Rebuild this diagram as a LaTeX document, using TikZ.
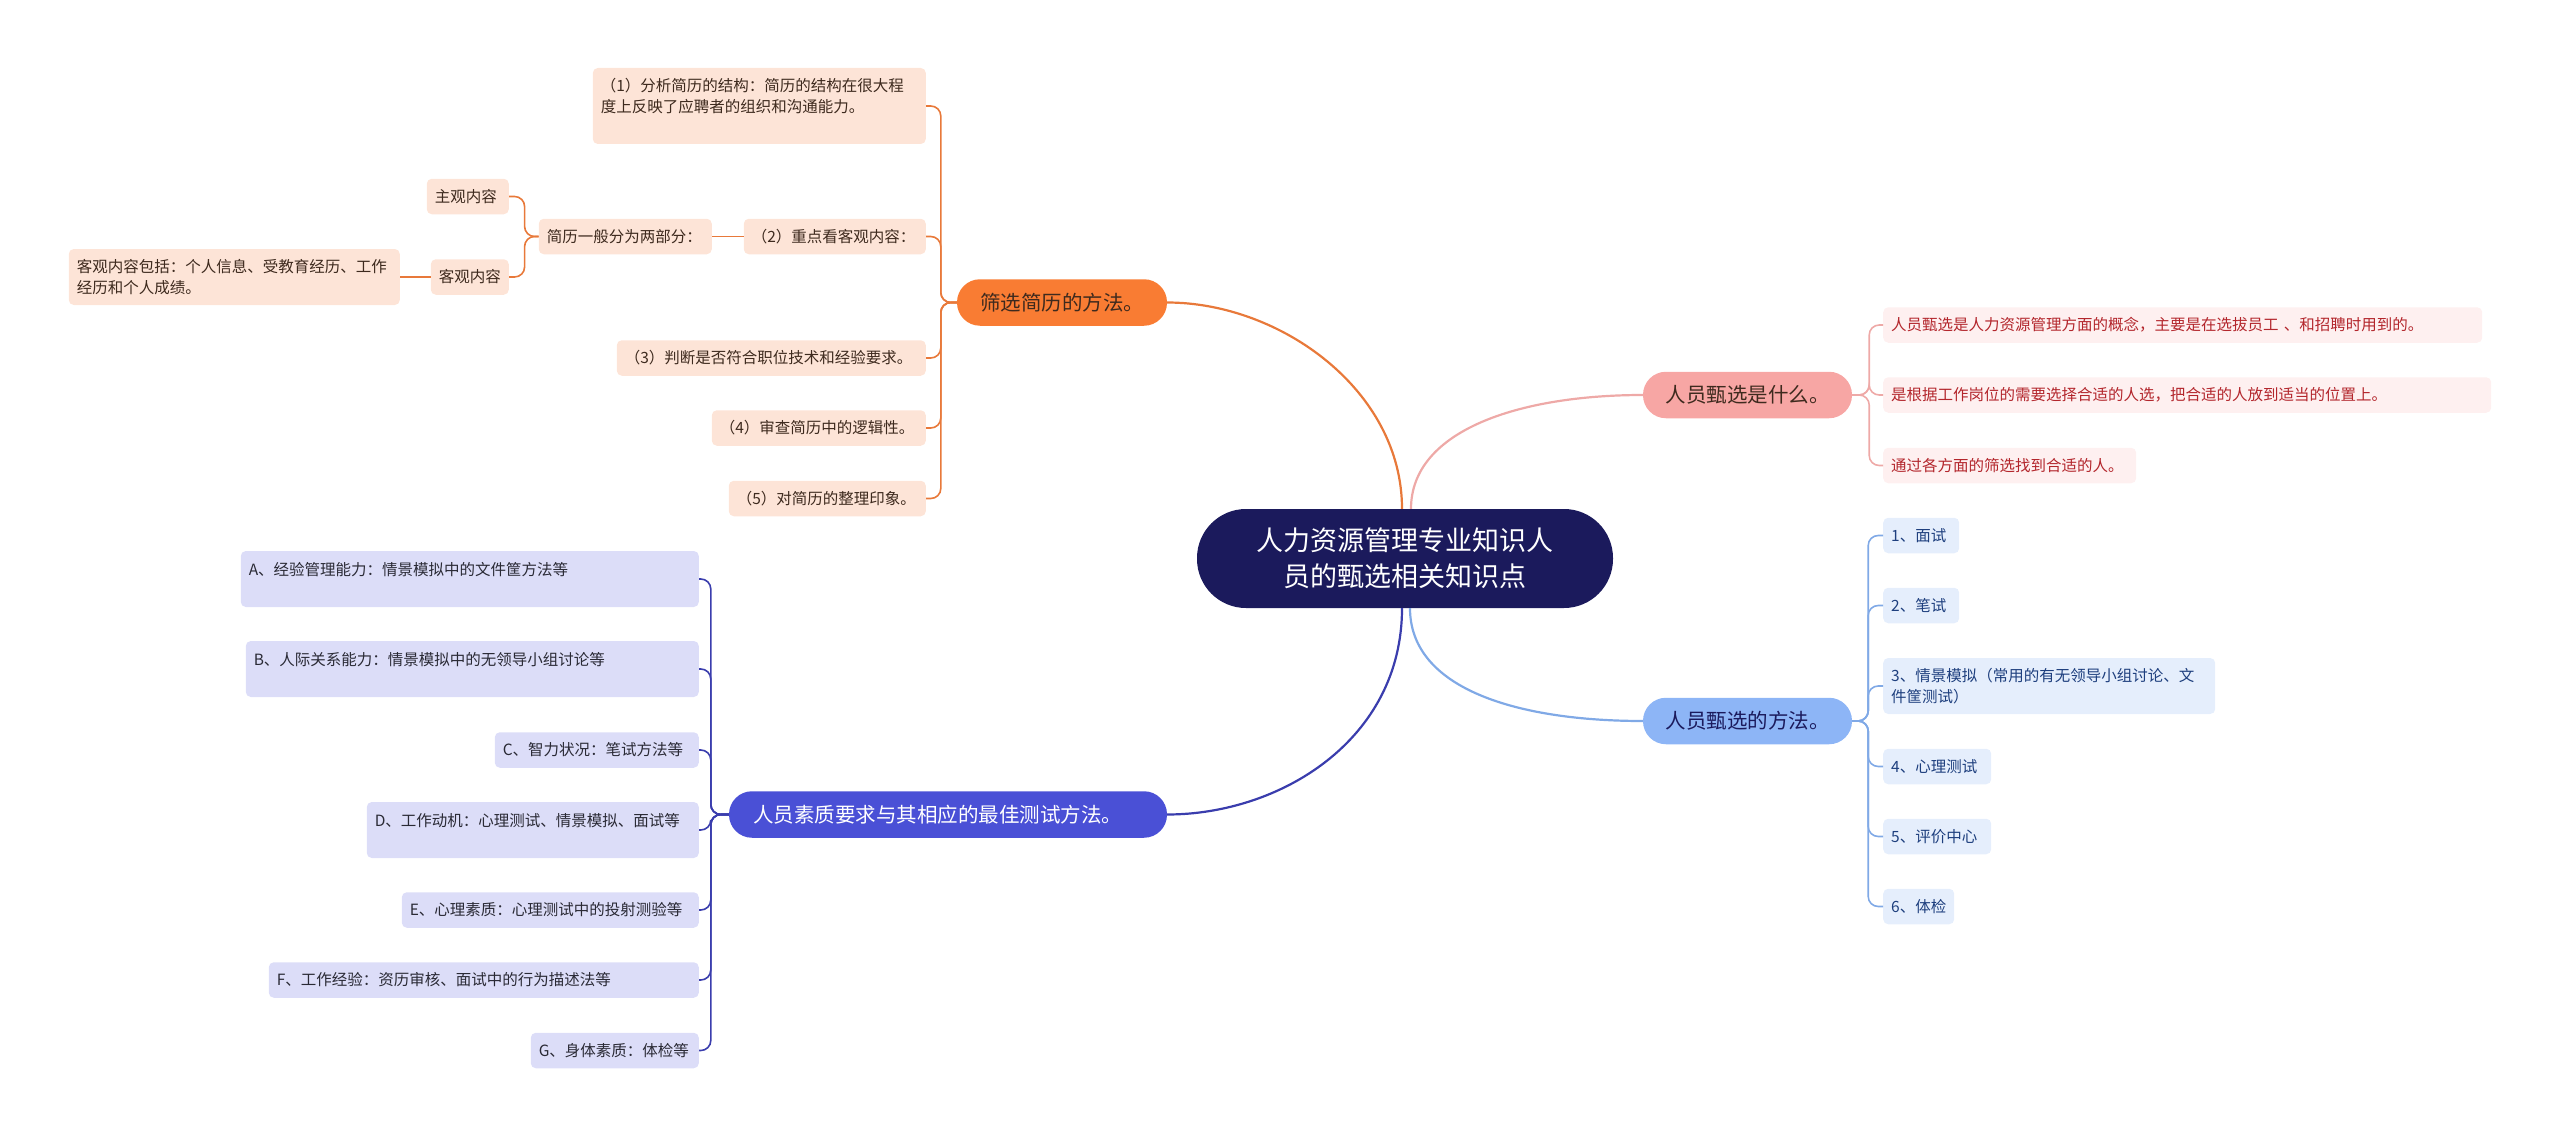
\documentclass[tikz,border=0pt]{standalone}
\usepackage{fontspec}
\usepackage{tikz}
\newfontfamily\cjk{Noto Sans CJK SC}
\definecolor{rootbg}{HTML}{1B1A5C}
\definecolor{ofill}{HTML}{F97C33}\definecolor{oline}{HTML}{E8793A}
\definecolor{oleaffill}{HTML}{FDE4D7}\definecolor{otxt}{HTML}{3E2A1E}
\definecolor{pfill}{HTML}{F7A6A4}\definecolor{pline}{HTML}{EEA9A7}
\definecolor{pleaffill}{HTML}{FEF0F0}\definecolor{ptxt}{HTML}{B3262C}
\definecolor{bfill}{HTML}{8DB5F6}\definecolor{bline}{HTML}{80A9E6}
\definecolor{bleaffill}{HTML}{E5EEFC}\definecolor{btxt}{HTML}{1E3F7E}
\definecolor{vfill}{HTML}{4A50D6}\definecolor{vline}{HTML}{3A3DAD}
\definecolor{vleaffill}{HTML}{DCDDF8}\definecolor{vtxt}{HTML}{2A2A35}

\begin{document}
\begin{tikzpicture}[
  x=1pt, y=-1pt,
  root/.style={fill=rootbg, text=white, rounded corners=49pt, align=center,
               minimum width=416pt, minimum height=99pt, inner sep=0pt,
               font=\cjk\fontsize{27}{36}\selectfont},
  topic/.style={rounded corners=23pt, inner sep=0pt, minimum height=46.5pt,
                font=\cjk\fontsize{20.5}{26}\selectfont},
  leaf/.style={rounded corners=5pt, inner xsep=8pt, inner ysep=0pt,
               minimum height=35.5pt, align=left,
               font=\cjk\fontsize{15.5}{21}\selectfont},
  oleaf/.style={leaf, fill=oleaffill, text=otxt},
  pleaf/.style={leaf, fill=pleaffill, text=ptxt},
  bleaf/.style={leaf, fill=bleaffill, text=btxt},
  vleaf/.style={leaf, fill=vleaffill, text=vtxt},
  link/.style={line width=2.2pt},
  twig/.style={line width=1.6pt, rounded corners=10pt},
]
\useasboundingbox (0,0) rectangle (2560,1137);

\node[root] (root) at (1405,558.5) {人力资源管理专业知识人\\员的甄选相关知识点};

% screening branch
\node[topic, fill=ofill, text=otxt, minimum width=210pt] (scr) at (1062,302.5) {筛选简历的方法。};
\node[oleaf, text width=317pt, minimum height=76pt, anchor=east] (o1) at (926,106)
  {（1）分析简历的结构：简历的结构在很大程\\度上反映了应聘者的组织和沟通能力。\\~};
\node[oleaf, text width=166pt, anchor=east] (o2) at (926,236.5) {（2）重点看客观内容：};
\node[oleaf, text width=157pt, anchor=east] (parts) at (712,236.5) {简历一般分为两部分：};
\node[oleaf, text width=66pt, anchor=east] (subj) at (509,196.5) {主观内容};
\node[oleaf, text width=62pt, anchor=east] (obj) at (509,277) {客观内容};
\node[oleaf, text width=315pt, minimum height=56pt, anchor=east] (objd) at (400,277)
  {客观内容包括：个人信息、受教育经历、工作\\经历和个人成绩。};
\node[oleaf, text width=293pt, anchor=east] (o3) at (926,358) {（3）判断是否符合职位技术和经验要求。};
\node[oleaf, text width=198pt, anchor=east] (o4) at (926,428) {（4）审查简历中的逻辑性。};
\node[oleaf, text width=181pt, anchor=east] (o5) at (926,498.5) {（5）对简历的整理印象。};

% what branch
\node[topic, fill=pfill, text=otxt, minimum width=209pt] (wh) at (1747.5,395) {人员甄选是什么。};
\node[pleaf, text width=583pt, anchor=west] (p1) at (1883,325)
  {人员甄选是人力资源管理方面的概念，主要是在选拔员工 、和招聘时用到的。};
\node[pleaf, text width=592pt, anchor=west] (p2) at (1883,395)
  {是根据工作岗位的需要选择合适的人选，把合适的人放到适当的位置上。};
\node[pleaf, text width=237pt, anchor=west] (p3) at (1883,465.5) {通过各方面的筛选找到合适的人。};

% methods branch
\node[topic, fill=bfill, text=rootbg, minimum width=209pt] (how) at (1747.5,721) {人员甄选的方法。};
\node[bleaf, text width=60pt, anchor=west] (b1) at (1883,535.5) {1、面试};
\node[bleaf, text width=60pt, anchor=west] (b2) at (1883,605.5) {2、笔试};
\node[bleaf, text width=316pt, minimum height=56pt, anchor=west] (b3) at (1883,686)
  {3、情景模拟（常用的有无领导小组讨论、文\\件筐测试）};
\node[bleaf, text width=92pt, anchor=west] (b4) at (1883,766.5) {4、心理测试};
\node[bleaf, text width=92pt, anchor=west] (b5) at (1883,836.5) {5、评价中心};
\node[bleaf, text width=55pt, anchor=west] (b6) at (1883,906.5) {6、体检};

% requirements branch
\node[topic, fill=vfill, text=white, text width=390pt, inner xsep=24pt, align=left] (req) at (948,814.5)
  {人员素质要求与其相应的最佳测试方法。};
\node[vleaf, text width=442pt, minimum height=56pt, anchor=east] (qa) at (699,579)
  {A、经验管理能力：情景模拟中的文件筐方法等\\~};
\node[vleaf, text width=437pt, minimum height=56pt, anchor=east] (qb) at (699,669)
  {B、人际关系能力：情景模拟中的无领导小组讨论等\\~};
\node[vleaf, text width=188pt, anchor=east] (qc) at (699,750) {C、智力状况：笔试方法等};
\node[vleaf, text width=316pt, minimum height=56pt, anchor=east] (qd) at (699,830)
  {D、工作动机：心理测试、情景模拟、面试等\\~};
\node[vleaf, text width=281pt, anchor=east] (qe) at (699,910) {E、心理素质：心理测试中的投射测验等};
\node[vleaf, text width=414pt, anchor=east] (qf) at (699,980) {F、工作经验：资历审核、面试中的行为描述法等};
\node[vleaf, text width=152pt, anchor=east] (qg) at (699,1050.5) {G、身体素质：体检等};

% root links
\draw[link, oline] ([xshift=-3pt]root.north) .. controls (1402,390) and (1280,302.5) .. (scr.east);
\draw[link, pline] ([xshift=6pt]root.north) .. controls (1411,430) and (1520,395) .. (wh.west);
\draw[link, bline] ([xshift=5pt]root.south) .. controls (1410,690) and (1520,721) .. (how.west);
\draw[link, vline] ([xshift=-3pt]root.south) .. controls (1402,740) and (1280,814.5) .. (req.east);

% screening twigs
\draw[twig, oline] (scr.west) -- ++(-16,0) |- (o1.east);
\draw[twig, oline] (scr.west) -- ++(-16,0) |- (o2.east);
\draw[twig, oline] (scr.west) -- ++(-16,0) |- (o3.east);
\draw[twig, oline] (scr.west) -- ++(-16,0) |- (o4.east);
\draw[twig, oline] (scr.west) -- ++(-16,0) |- (o5.east);
\draw[twig, oline] (o2.west) -- (parts.east);
\draw[twig, oline] (parts.west) -- ++(-14,0) |- (subj.east);
\draw[twig, oline] (parts.west) -- ++(-14,0) |- (obj.east);
\draw[twig, oline] (obj.west) -- (objd.east);

% what twigs
\draw[twig, pline] (wh.east) -- ++(17,0) |- (p1.west);
\draw[twig, pline] (wh.east) -- ++(17,0) |- (p2.west);
\draw[twig, pline] (wh.east) -- ++(17,0) |- (p3.west);

% methods twigs
\draw[twig, bline] (how.east) -- ++(16,0) |- (b1.west);
\draw[twig, bline] (how.east) -- ++(16,0) |- (b2.west);
\draw[twig, bline] (how.east) -- ++(16,0) |- (b3.west);
\draw[twig, bline] (how.east) -- ++(16,0) |- (b4.west);
\draw[twig, bline] (how.east) -- ++(16,0) |- (b5.west);
\draw[twig, bline] (how.east) -- ++(16,0) |- (b6.west);

% requirements twigs
\draw[twig, vline] (req.west) -- ++(-18,0) |- (qa.east);
\draw[twig, vline] (req.west) -- ++(-18,0) |- (qb.east);
\draw[twig, vline] (req.west) -- ++(-18,0) |- (qc.east);
\draw[twig, vline] (req.west) -- ++(-18,0) |- (qd.east);
\draw[twig, vline] (req.west) -- ++(-18,0) |- (qe.east);
\draw[twig, vline] (req.west) -- ++(-18,0) |- (qf.east);
\draw[twig, vline] (req.west) -- ++(-18,0) |- (qg.east);
\end{tikzpicture}
\end{document}
